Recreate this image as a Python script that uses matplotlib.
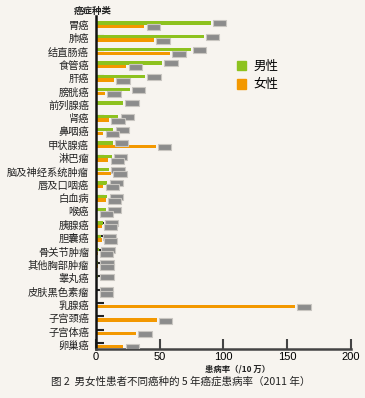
import numpy as np
import matplotlib
matplotlib.use("Agg")
import matplotlib.pyplot as plt
from matplotlib.patches import Patch

plt.rcParams['font.family'] = ['Noto Sans CJK SC', 'DejaVu Sans']

categories = ["胃癌", "肺癌", "结直肠癌", "食管癌", "肝癌", "膀胱癌", "前列腺癌", "肾癌",
              "鼻咽癌", "甲状腺癌", "淋巴瘤", "脑及神经系统肿瘤", "唇及口咽癌", "白血病",
              "喉癌", "胰腺癌", "胆囊癌", "骨关节肿瘤", "其他胸部肿瘤", "睾丸癌",
              "皮肤黑色素瘤", "乳腺癌", "子宫颈癌", "子宫体癌", "卵巢癌"]
male = [90, 84.4, 74.2, 51.8, 38.4, 26.4, 21.2, 17.5, 13.6, 13.1, 12.3, 10.2, 8.9, 8.9,
        7.6, 5.2, 3.7, 2.4, 1.5, 1.5, 1.0, np.nan, np.nan, np.nan, np.nan]
female = [37.9, 45.5, 58.0, 23.8, 14.1, 7.0, np.nan, 10.2, 5.7, 46.8, 9.7, 11.8, 5.7, 7.6,
          1.0, 4.4, 4.4, 1.3, 1.5, np.nan, 1.0, 156.0, 47.6, 31.4, 21.4]
xticks = [0, 50, 100, 150, 200]

GREEN = "#8dc21f"
ORANGE = "#f39800"
GRAY = "#8c8c8c"
BG = "#f7f4ef"

fig = plt.figure(figsize=(3.65, 3.98), dpi=100, facecolor=BG)
ax = fig.add_axes([0.263, 0.1219, 0.6986, 0.8379])
ax.set_facecolor(BG)
ax.set_axisbelow(True)

y = np.arange(len(categories))
m = np.array(male, dtype=float)
f = np.array(female, dtype=float)
off = 0.14
bh = 0.26
boxh = 0.45
boxw = 10.5
gap = 1.8

ax.barh(y - off, np.nan_to_num(m), height=bh, color=GREEN, zorder=2)
ax.barh(y + off, np.nan_to_num(f), height=bh, color=ORANGE, zorder=2)

for yi, v in zip(y - off, m):
    if not np.isnan(v):
        ax.barh(yi + 0.02, boxw, left=v + gap, height=boxh, color=GRAY,
                edgecolor="#c9c6c1", linewidth=0.8, zorder=3)
for yi, v in zip(y + off, f):
    if not np.isnan(v):
        ax.barh(yi + 0.05, boxw, left=v + gap, height=boxh, color=GRAY,
                edgecolor="#c9c6c1", linewidth=0.8, zorder=3)

ax.set_xlim(0, 200)
ax.set_ylim(len(categories) - 1 + 0.35, -0.66)
ax.set_yticks(y)
ax.set_yticklabels(categories, fontsize=7.4, color="#222222")
ax.tick_params(axis='y', which='major', length=0, pad=5)
ax.set_yticks(y - off, minor=True)
ax.tick_params(axis='y', which='minor', direction='in', length=6, width=1.5, color="#222222")

ax.set_xticks(xticks)
ax.set_xticklabels([str(t) for t in xticks], fontsize=8, family=['Liberation Sans'])
ax.tick_params(axis='x', direction='in', length=7, width=1.5, color="#444444", pad=2)

for s in ['top', 'right']:
    ax.spines[s].set_visible(False)
ax.spines['left'].set_linewidth(1.8)
ax.spines['left'].set_color("#111111")
ax.spines['bottom'].set_linewidth(1.8)
ax.spines['bottom'].set_color("#444444")

handles = [Patch(color=GREEN, label="男性"), Patch(color=ORANGE, label="女性")]
fig.legend(handles=handles, loc='upper left', bbox_to_anchor=(228 / 365, 1 - 51 / 398),
           frameon=False, fontsize=9, handlelength=0.75, handleheight=0.75,
           handletextpad=0.6, labelspacing=0.45, borderpad=0.2)

fig.text(93 / 365, 1 - 11 / 398, "癌症种类", ha='center', va='center', fontsize=6.8,
         fontweight='bold', color="#222222")
fig.text(238 / 365, 1 - 369 / 398, "患病率（/10 万）", ha='center', va='center', fontsize=6,
         fontweight='bold', color="#222222")
fig.text(181 / 365, 1 - 382 / 398, "图 2  男女性患者不同癌种的 5 年癌症患病率（2011 年）",
         ha='center', va='center', fontsize=7.6, color="#222222")

fig.savefig("out.png", dpi=100, facecolor=BG)
